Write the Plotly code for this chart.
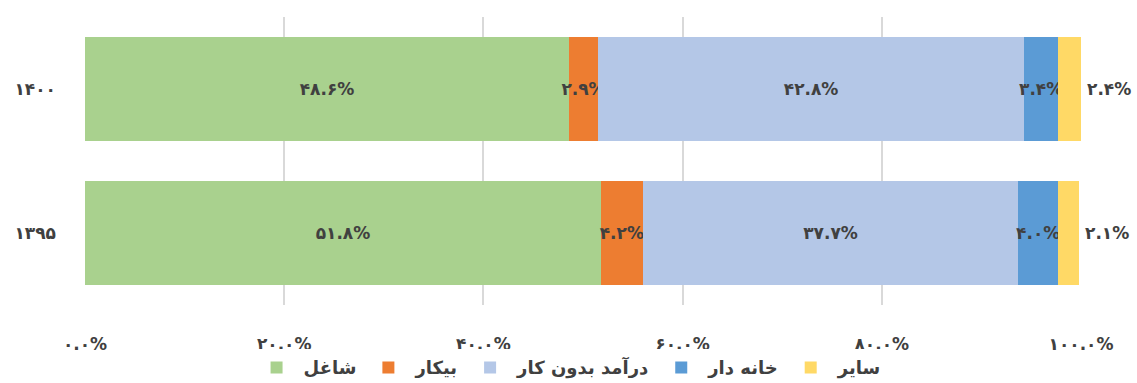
import plotly.graph_objects as go

years = ["۱۳۹۵", "۱۴۰۰"]
series_names = ["شاغل", "بیکار", "درآمد بدون کار", "خانه دار", "سایر"]
shaghel = [51.8, 48.6]
bikar = [4.2, 2.9]
daramad = [37.7, 42.8]
khanedar = [4.0, 3.4]
sayer = [2.1, 2.4]
x_ticks = [0, 20, 40, 60, 80, 100]

colors = ["#A9D18E", "#ED7D31", "#B4C7E7", "#5B9BD5", "#FFD966"]
values = [shaghel, bikar, daramad, khanedar, sayer]

FA = str.maketrans("0123456789", "۰۱۲۳۴۵۶۷۸۹")


def fa(v):
    return f"{v:.1f}%".translate(FA)


FONT = "DejaVu Sans"
TXT = "#404040"
LBL = dict(family=FONT, size=17, color=TXT, weight="bold")

fig = go.Figure()
for i, (name, vals, col) in enumerate(zip(series_names, values, colors)):
    last = i == len(series_names) - 1
    fig.add_trace(go.Bar(
        y=years, x=vals, name=name, orientation="h",
        marker=dict(color=col, line=dict(width=0)),
        text=None if last else [fa(v) for v in vals],
        textposition="none" if last else "inside",
        insidetextanchor="middle",
        textangle=0,
        textfont=LBL,
        cliponaxis=False,
        hoverinfo="skip",
    ))

# labels of the last series, placed just right of the bar end
for j, yr in enumerate(years):
    end = min(sum(v[j] for v in values), x_ticks[-1])
    fig.add_annotation(
        x=end, y=yr, text=fa(sayer[j]), showarrow=False,
        xanchor="left", xshift=4, font=LBL,
    )

fig.update_layout(
    barmode="stack",
    bargap=0.28,
    width=1137, height=383,
    margin=dict(l=85, r=56, t=17, b=78),
    paper_bgcolor="white", plot_bgcolor="white",
    uniformtext=dict(minsize=17, mode="show"),
    font=dict(family=FONT, color=TXT),
    showlegend=True,
    legend=dict(
        orientation="h", x=0.485, xanchor="center",
        yref="container", y=0.04, yanchor="middle",
        font=dict(family=FONT, size=18, color=TXT, weight="bold"),
        traceorder="normal", itemwidth=44,
    ),
    xaxis=dict(
        range=[0, 100], tickvals=x_ticks,
        ticktext=[fa(t) for t in x_ticks],
        showgrid=True, gridcolor="#D9D9D9", gridwidth=2,
        zeroline=False, showline=False, ticks="",
        tickfont=LBL, automargin=False,
        ticklabelstandoff=27,
    ),
    yaxis=dict(
        showgrid=False, zeroline=False, showline=False, ticks="",
        tickfont=LBL, automargin=False,
        ticklabelstandoff=28,
    ),
)

fig.write_html("out.html")
